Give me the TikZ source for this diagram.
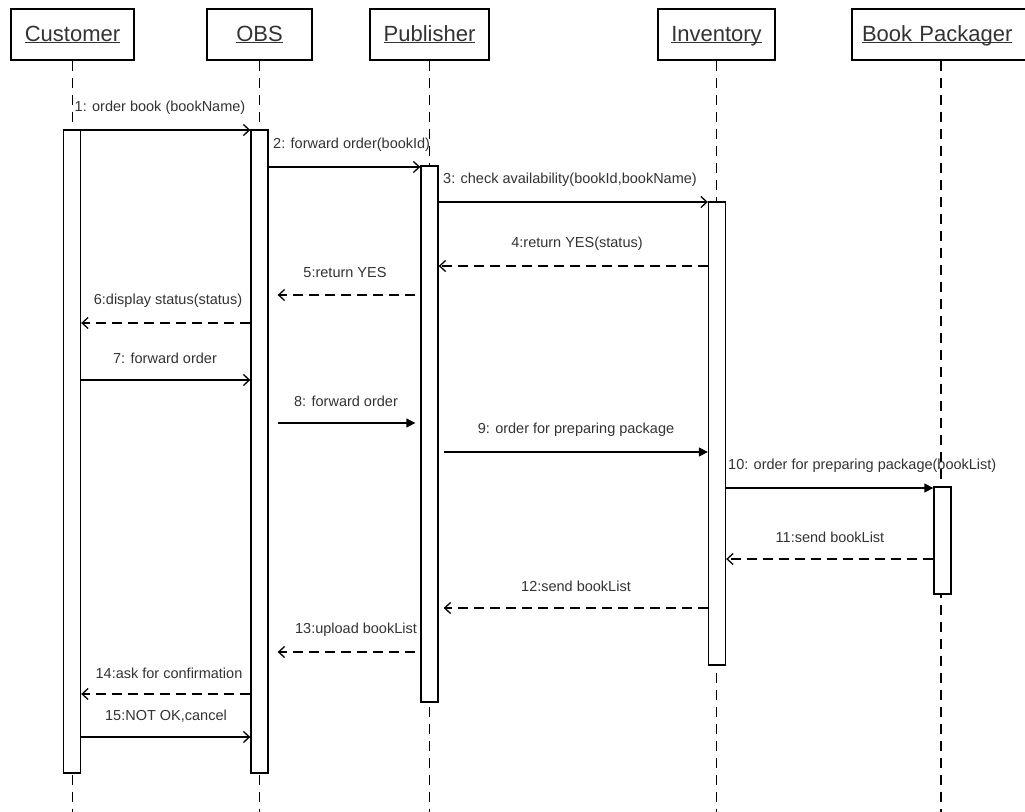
\documentclass[tikz,border=0pt]{standalone}
\usepackage{fontspec}
\setmainfont{Liberation Sans}
\usetikzlibrary{arrows.meta}
% object name, underlined just below the baseline
\newcommand\objname[1]{\underline{\raisebox{0pt}[\height][0pt]{#1}}}
\begin{document}
\begin{tikzpicture}[x=1pt,y=-1pt,
  obj/.style={draw, line width=1.3pt, rectangle, minimum height=51pt, inner sep=0pt,
    text height=16pt, text depth=3pt,
    font=\fontsize{22}{26}\selectfont, text=black!80},
  life/.style={line width=1.3pt, dash pattern=on 10pt off 7pt},
  act/.style={draw, fill=white, line width=1.3pt, minimum width=17pt, inner sep=0pt},
  call/.style={line width=1.3pt, -{Straight Barb[length=6pt,width=11pt]}},
  sync/.style={line width=1.3pt, -{Triangle[length=9pt,width=9pt]}},
  reply/.style={line width=1.3pt, dash pattern=on 10pt off 6pt, -{Straight Barb[length=6pt,width=11pt]}},
  lbl/.style={font=\fontsize{14.5}{17}\selectfont, text=black!80, inner sep=0pt}
]
\useasboundingbox (0,0) rectangle (1025,811);
\clip (0,0) rectangle (1025,811);
\fill[white] (0,0) rectangle (1025,811);

% objects
\node[obj, minimum width=123pt] (customer) at (72.5,34.5) {\objname{Customer}};
\node[obj, minimum width=105pt] (obs) at (259.5,34.5) {\objname{OBS}};
\node[obj, minimum width=119pt] (publisher) at (429.5,34.5) {\objname{Publisher}};
\node[obj, minimum width=117pt] (inventory) at (716.5,34.5) {\objname{Inventory}};
\node[obj, minimum width=178pt, text width=158pt, align=left] (packager) at (941,34.5) {\objname{Book Packager}};

\coordinate (bottom) at (0,815);

% lifelines
\foreach \o in {customer,obs,publisher,inventory,packager}
  \draw[life] (\o.south) -- (\o.south |- bottom);

% activation bars
\node[act, minimum height=643pt] (aC) at (72,451.5) {};
\node[act, minimum height=643pt] (aO) at (259.5,451.5) {};
\node[act, minimum height=536pt] (aP) at (429.5,434) {};
\node[act, minimum height=463pt] (aI) at (717,433.5) {};
\node[act, minimum height=107pt] (aB) at (942.5,540.5) {};

% message rows
\coordinate (m1) at (0,130);
\coordinate (m2) at (0,167);
\coordinate (m3) at (0,202);
\coordinate (m4) at (0,266);
\coordinate (m5) at (0,295);
\coordinate (m6) at (0,323);
\coordinate (m7) at (0,380);
\coordinate (m8) at (0,423);
\coordinate (m9) at (0,452);
\coordinate (m10) at (0,488);
\coordinate (m11) at (0,559);
\coordinate (m12) at (0,608);
\coordinate (m13) at (0,652);
\coordinate (m14) at (0,694);
\coordinate (m15) at (0,737);

% messages
\draw[call] (aC.east |- m1) -- (aO.west |- m1);
\draw[call] (aO.east |- m2) -- (aP.west |- m2);
\draw[call] (aP.east |- m3) -- (aI.west |- m3);
\draw[reply] (aI.west |- m4) -- (aP.east |- m4);
\draw[reply] ([xshift=-5pt]aP.west |- m5) -- ([xshift=9pt]aO.east |- m5);
\draw[reply] (aO.west |- m6) -- (aC.east |- m6);
\draw[call] (aC.east |- m7) -- (aO.west |- m7);
\draw[sync] ([xshift=9pt]aO.east |- m8) -- ([xshift=-5pt]aP.west |- m8);
\draw[sync] ([xshift=5pt]aP.east |- m9) -- (aI.west |- m9);
\draw[sync] (aI.east |- m10) -- (aB.west |- m10);
\draw[reply] (aB.west |- m11) -- (aI.east |- m11);
\draw[reply] (aI.west |- m12) -- ([xshift=5pt]aP.east |- m12);
\draw[reply] ([xshift=-5pt]aP.west |- m13) -- ([xshift=9pt]aO.east |- m13);
\draw[reply] (aO.west |- m14) -- (aC.east |- m14);
\draw[call] (aC.east |- m15) -- (aO.west |- m15);

% message labels
\node[lbl] (l1) at (160,108) {1: order book (bookName)};
\node[lbl, anchor=west] (l2) at (273,145) {2: forward order(bookId)};
\node[lbl, anchor=west] (l3) at (443,180) {3: check availability(bookId,bookName)};
\node[lbl] (l4) at (577,244) {4:return YES(status)};
\node[lbl] (l5) at (345,273) {5:return YES};
\node[lbl] (l6) at (168,301) {6:display status(status)};
\node[lbl] (l7) at (165,358) {7: forward order};
\node[lbl] (l8) at (346,401) {8: forward order};
\node[lbl] (l9) at (576,430) {9: order for preparing package};
\node[lbl, anchor=west] (l10) at (728,466) {10: order for preparing package(bookList)};
\node[lbl] (l11) at (830,537) {11:send bookList};
\node[lbl] (l12) at (576,586) {12:send bookList};
\node[lbl] (l13) at (356,630) {13:upload bookList};
\node[lbl] (l14) at (169,673) {14:ask for confirmation};
\node[lbl] (l15) at (166,716) {15:NOT OK,cancel};
\end{tikzpicture}
\end{document}
